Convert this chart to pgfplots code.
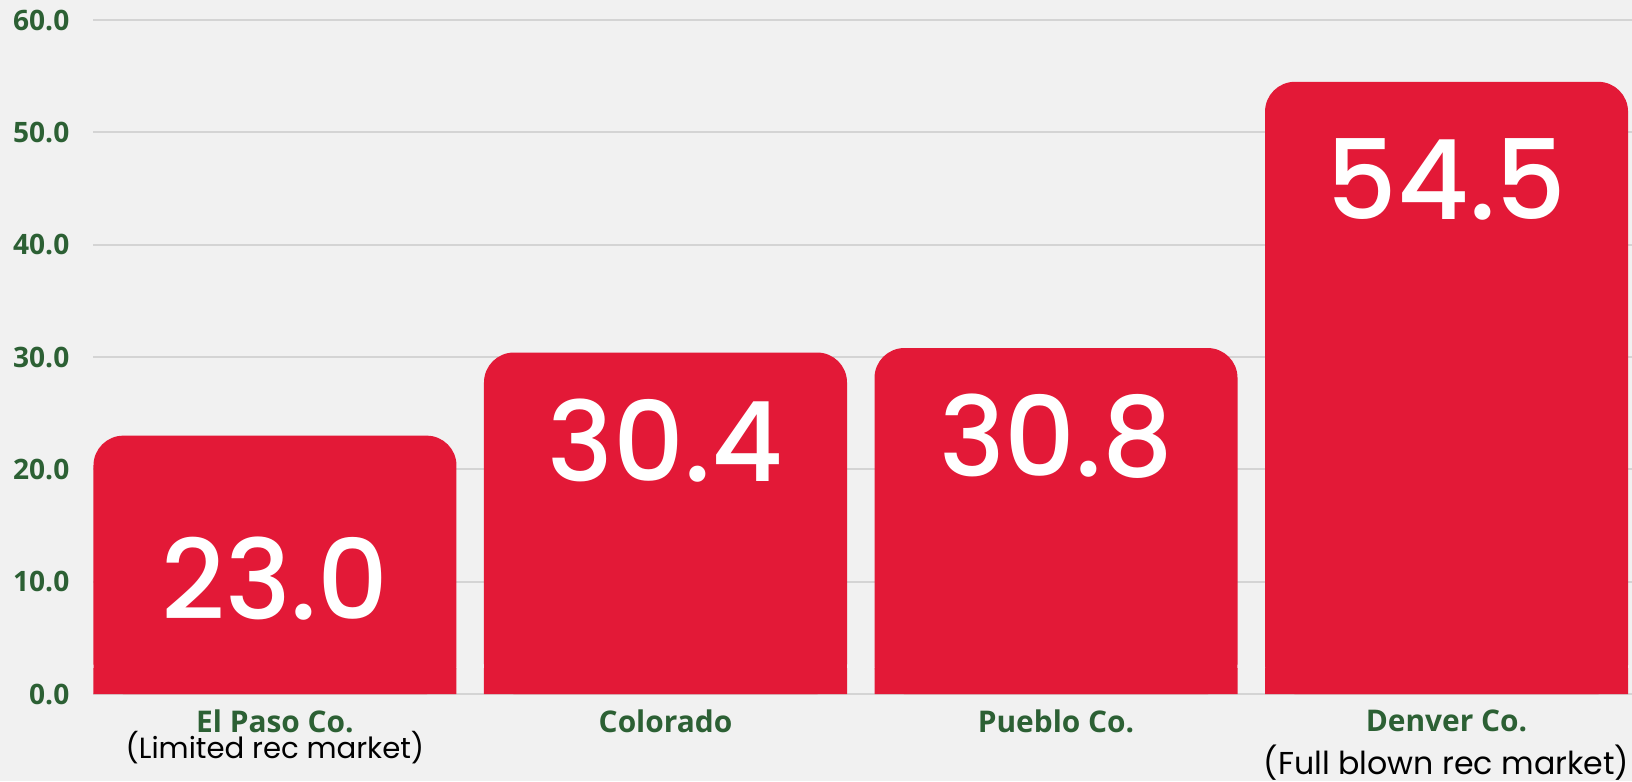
\documentclass[border=0pt]{standalone}
\usepackage{pgfplots}
\pgfplotsset{compat=1.18}
\usepackage{fontspec}
\setmainfont{Open Sans}
\newfontfamily\poppins{Poppins}
\newfontfamily\numfont{Poppins}[UprightFont={* Medium}]
\definecolor{barred}{RGB}{227,25,55}
\definecolor{tickgreen}{RGB}{44,96,52}
\definecolor{bg}{RGB}{241,241,241}
\definecolor{gridc}{RGB}{212,212,212}
\begin{document}
\begin{tikzpicture}
\path[use as bounding box, fill=bg] (-0.93cm,-0.87cm) rectangle (15.39cm,6.94cm);
\begin{axis}[
  scale only axis,
  width=15.39cm, height=6.74cm,
  xmin=-0.466, xmax=3.475,
  ymin=0, ymax=60,
  ytick={0,10,...,60},
  xtick={0,1,2,3},
  xticklabels={El Paso Co., Colorado, Pueblo Co., Denver Co.},
  axis line style={draw=none},
  major tick length=0pt,
  ymajorgrids,
  grid style={gridc, line width=0.6pt},
  /pgf/number format/assume math mode=true,
  /pgf/number format/fixed,
  /pgf/number format/fixed zerofill,
  /pgf/number format/precision=1,
  yticklabel style={font=\fontsize{8}{9}\selectfont\bfseries, text=tickgreen, anchor=east, inner sep=0pt, xshift=-0.23cm},
  xticklabel style={font=\fontsize{8.5}{9}\selectfont\bfseries, text=tickgreen, anchor=north, inner sep=0pt, yshift=-0.15cm},
  ybar,
  bar width=3.63cm,
  clip=false,
]
\addplot[fill=barred, draw=none, rounded corners=8.5pt, bar shift=0pt]
  coordinates {(0,23.0) (1,30.4) (2,30.8) (3,54.5)};
\addplot[fill=barred, draw=none, bar shift=0pt]
  coordinates {(0,2.3) (1,2.3) (2,2.3) (3,2.3)};
\addplot[draw=none, mark=none, bar shift=0pt, fill=none,
  nodes near coords, point meta=explicit symbolic,
  every node near coord/.style={anchor=center, text=white, font=\numfont\fontsize{31.5}{31.5}\selectfont}]
  coordinates {(0,10.24)[23.0] (1,22.6)[30.4] (2,22.95)[30.8] (3,45.85)[54.5]};
\node[font=\poppins\fontsize{8.3}{10}\selectfont, anchor=center] at (axis cs:0,0) [yshift=-0.54cm] {(Limited rec market)};
\node[font=\poppins\fontsize{9.0}{11}\selectfont, anchor=center] at (axis cs:3,0) [yshift=-0.69cm] {(Full blown rec market)};
\end{axis}
\end{tikzpicture}
\end{document}
